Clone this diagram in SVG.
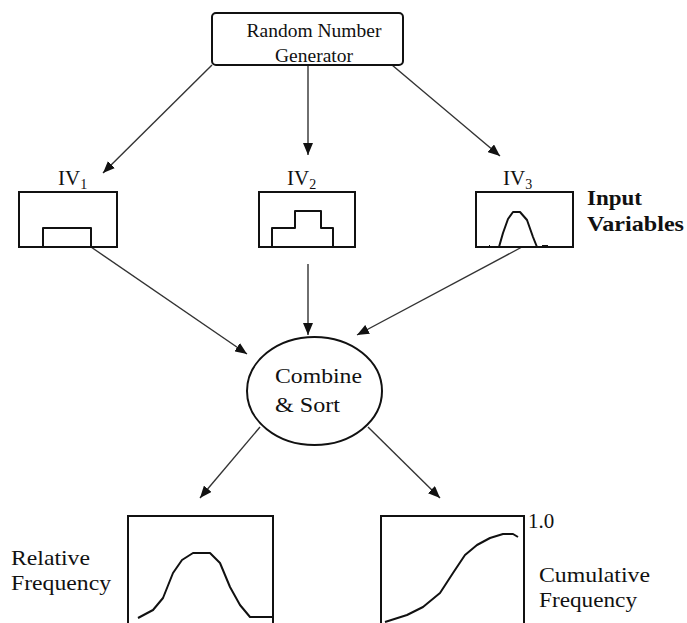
<svg xmlns="http://www.w3.org/2000/svg" width="687" height="623" viewBox="0 0 687 623">
<style>
text{font-family:'Liberation Serif','DejaVu Serif',serif;fill:#111}
.big{font-size:22px}
.box{fill:#fff;stroke:#111;stroke-width:2}
.curve{fill:none;stroke:#111;stroke-width:2;stroke-linejoin:round}
.conn{stroke:#333;stroke-width:1.4;fill:none;marker-end:url(#ah)}
</style>
<defs>
<marker id="ah" viewBox="0 0 12 10" refX="12" refY="5" markerWidth="12" markerHeight="10" markerUnits="userSpaceOnUse" orient="auto">
<path d="M0,0 L12,5 L0,10 Z" fill="#111"/>
</marker>
</defs>
<rect width="687" height="623" fill="#fff"/>
<g id="connectors">
<line class="conn" x1="212" y1="65" x2="103" y2="173"/>
<line class="conn" x1="308" y1="65" x2="308" y2="155"/>
<line class="conn" x1="392" y1="65" x2="500" y2="156"/>
<line class="conn" x1="91" y1="247" x2="247" y2="354"/>
<line class="conn" x1="308" y1="264" x2="308" y2="335"/>
<line class="conn" x1="522" y1="247" x2="357" y2="335"/>
<line class="conn" x1="260" y1="427" x2="200" y2="498"/>
<line class="conn" x1="368" y1="427" x2="440" y2="498"/>
</g>
<g id="rng">
<rect class="box" x="212" y="13" width="191" height="52" rx="4"/>
<text x="314" y="37" font-size="19.5" text-anchor="middle">Random Number</text>
<text x="314" y="62" font-size="19.5" text-anchor="middle">Generator</text>
</g>
<g id="iv1">
<text x="58" y="185" font-size="21">IV<tspan font-size="14" dy="4">1</tspan></text>
<rect class="box" x="19" y="192" width="98" height="55"/>
<path class="curve" d="M43,247 V228 H91 V247"/>
</g>
<g id="iv2">
<text x="287" y="185" font-size="21">IV<tspan font-size="14" dy="4">2</tspan></text>
<rect class="box" x="259" y="192" width="96" height="55"/>
<path class="curve" d="M272,247 V228 H295 V211 H321 V228 H333 V247"/>
</g>
<g id="iv3">
<text x="503" y="185" font-size="21">IV<tspan font-size="14" dy="4">3</tspan></text>
<rect class="box" x="476" y="192" width="97" height="55"/>
<path class="curve" d="M499,247 L503,233 L508,219 L513,212 L520,212 L527,220 L533,237 L537,247"/>
<path class="curve" d="M489,246 h1 M542,246 H548"/>
</g>
<g id="input-label">
<text class="big" x="587" y="205" font-weight="bold" textLength="55" lengthAdjust="spacingAndGlyphs">Input</text>
<text class="big" x="587" y="231" font-weight="bold" textLength="97" lengthAdjust="spacingAndGlyphs">Variables</text>
</g>
<g id="combine">
<ellipse class="box" cx="314.5" cy="391" rx="67.5" ry="54"/>
<text class="big" x="275" y="383" textLength="87" lengthAdjust="spacingAndGlyphs">Combine</text>
<text class="big" x="275" y="412" textLength="65" lengthAdjust="spacingAndGlyphs">&amp; Sort</text>
</g>
<g id="relative">
<rect class="box" x="128" y="516" width="145" height="112"/>
<path class="curve" d="M138,618 L153,610 L163,598 L173,573 L182,560 L193,553 L210,553 L220,563 L230,587 L240,605 L250,617 L273,617"/>
<text class="big" x="11" y="565" textLength="79" lengthAdjust="spacingAndGlyphs">Relative</text>
<text class="big" x="11" y="590" textLength="100" lengthAdjust="spacingAndGlyphs">Frequency</text>
</g>
<g id="cumulative">
<rect class="box" x="381" y="516" width="143" height="112"/>
<path class="curve" d="M385,622 L407,615 L423,607 L440,593 L453,573 L465,555 L477,545 L490,538 L503,534 L513,534 L518,537"/>
<text x="528" y="528" font-size="21">1.0</text>
<text class="big" x="539" y="582" textLength="111" lengthAdjust="spacingAndGlyphs">Cumulative</text>
<text class="big" x="539" y="607" textLength="98" lengthAdjust="spacingAndGlyphs">Frequency</text>
</g>
</svg>
